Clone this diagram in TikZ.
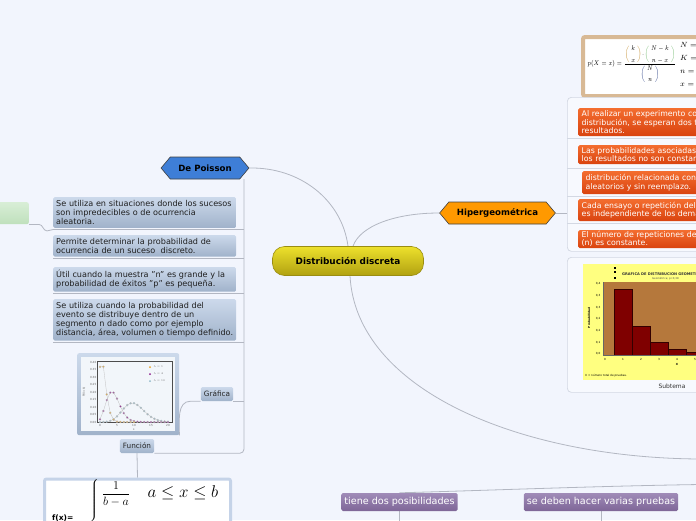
\RequirePackage{fix-cm}
\documentclass[tikz,border=0pt]{standalone}
\usepackage[no-math]{fontspec}
\setmainfont{DejaVu Sans}
\usepackage{amsmath}
\usetikzlibrary{calc,shapes.symbols}
\pgfdeclarelayer{fondo}
\pgfsetlayers{fondo,main}

\definecolor{fondoc}{HTML}{F2F5FD}
\definecolor{lineac}{HTML}{B3B7C2}
\definecolor{amar1}{HTML}{EDE12C}
\definecolor{amar2}{HTML}{B1A111}
\definecolor{amarb}{HTML}{9A8D12}
\definecolor{azulh}{HTML}{3E7ED7}
\definecolor{naranjah}{HTML}{FF9900}
\definecolor{caja1}{HTML}{CCD9EB}
\definecolor{caja2}{HTML}{A0B2CA}
\definecolor{nar1}{HTML}{F36D2F}
\definecolor{nar2}{HTML}{D9430F}
\definecolor{mor1}{HTML}{A08BB8}
\definecolor{mor2}{HTML}{7E6697}
\definecolor{verde1}{HTML}{D8EED6}
\definecolor{verde2}{HTML}{BFE0BC}
\definecolor{marcof}{HTML}{D8B995}
\definecolor{marcoa}{HTML}{C5D3E8}
\definecolor{grupoc}{HTML}{D3D8E3}
\definecolor{amarg}{HTML}{FFFF80}
\definecolor{cafe}{HTML}{B5783C}
\definecolor{barra}{HTML}{7F0000}
\definecolor{lam1}{HTML}{E8A020}
\definecolor{lam4}{HTML}{8B1A8B}
\definecolor{lam10}{HTML}{8FB8C8}
\definecolor{ocre}{HTML}{C8963C}
\definecolor{verdeb}{HTML}{7DBF7A}
\definecolor{azulb}{HTML}{3A4F8F}

% binomio con parentesis de color
\newcommand{\bincol}[3]{\mathopen{\color{#1}\left(\vphantom{\genfrac{}{}{0pt}{0}{#2}{#3}}\right.}\genfrac{}{}{0pt}{0}{#2}{#3}\mathclose{\color{#1}\left.\vphantom{\genfrac{}{}{0pt}{0}{#2}{#3}}\right)}}

\tikzset{
  conector/.style={draw=lineac, line width=.8pt},
  separa/.style={draw=grupoc, line width=.7pt},
  centro/.style={rounded corners=12pt, minimum width=151pt, minimum height=29pt, top color=amar1, bottom color=amar2, draw=amarb, line width=.6pt, font=\bfseries\fontsize{8.9}{10}\selectfont},
  hexa/.style={signal, signal to=east and west, signal pointer angle=100, draw=black!75, line width=.6pt, minimum height=22pt, font=\bfseries\fontsize{8.6}{10}\selectfont, inner xsep=8pt},
  caja/.style={anchor=north west, rounded corners=1.5pt, top color=caja1, bottom color=caja2, text width=177pt, inner xsep=3pt, inner ysep=3pt, align=left, text=black!88, font=\fontsize{8.1}{9.2}\selectfont},
  naranja/.style={anchor=north west, rounded corners=1.5pt, top color=nar1, bottom color=nar2, text width=200pt, inner xsep=3.5pt, inner ysep=0pt, align=left, text=white, font=\fontsize{7.8}{8.3}\selectfont},
  morado/.style={rounded corners=1.5pt, top color=mor1, bottom color=mor2, text=white, minimum height=18pt, inner xsep=3pt, inner ysep=0pt, font=\fontsize{9.6}{10}\selectfont},
  etiqueta/.style={rounded corners=1.5pt, top color=caja1, bottom color=caja2, text=black!85, minimum height=14pt, inner xsep=3pt, inner ysep=0pt, font=\fontsize{7.3}{8}\selectfont},
  grupo/.style={anchor=north west, draw=grupoc, fill=white!40!fondoc, rounded corners=4pt, line width=.7pt},
  diminuto/.style={font=\fontsize{2.8}{3}\selectfont, inner sep=.5pt},
}

\begin{document}
\begin{tikzpicture}[x=1pt,y=-1pt]
\clip (0,0) rectangle (696,520);
\begin{pgfonlayer}{fondo}
\fill[fondoc] (0,0) rectangle (696,520);
\end{pgfonlayer}

% nodos principales
\node[centro] (dd) at (348,261) {Distribución discreta};
\node[hexa, fill=azulh, minimum width=86pt] (poi) at (205,168) {De Poisson};
\node[hexa, fill=naranjah, minimum width=115pt] (hip) at (497.5,213) {Hipergeométrica};

% rama De Poisson
\coordinate (tronco) at (244,179);
\node[rounded corners=2pt, top color=verde1, bottom color=verde2, minimum width=40pt, minimum height=22pt, anchor=north east] (vd) at (29,202) {};
\node[caja] (c1) at (53,197) {Se utiliza en situaciones donde los sucesos\\son impredecibles o de ocurrencia\\aleatoria.};
\node[caja] (c2) at (53,235) {Permite determinar la probabilidad de\\ocurrencia de un suceso\ \ discreto.};
\node[caja] (c3) at (53,267) {Útil cuando la muestra "n" es grande y la\\probabilidad de éxitos "p" es pequeña.};
\node[caja] (c4) at (53,299) {Se utiliza cuando la probabilidad del\\evento se distribuye dentro de un\\segmento n dado como por ejemplo\\distancia, área, volumen o tiempo definido.};
\node[etiqueta] (gra) at (217,394) {Gráfica};
\node[etiqueta] (fun) at (137,446) {Función};

% grafica de Poisson
\node[anchor=north west, rounded corners=2pt, top color=caja1, bottom color=caja2, minimum width=102pt, minimum height=82pt, inner sep=0pt] (img) at (77,353) {};
\fill[white!75!caja1] ($(img.north west)+(4,4)$) rectangle ($(img.south east)+(-4,-4)$);
\draw[black!70, line width=.3pt] (97,361) rectangle (172,422);
\foreach \v [count=\i from 0] in {0.00,0.05,0.10,0.15,0.20,0.25,0.30,0.35,0.40}
  \node[diminuto, anchor=east, text=black!60] at (97,422-7.5*\i) {\v};
\foreach \k in {0,5,10,15,20}
  \node[diminuto, text=black!60] at (100+3.4*\k,425.5) {\k};
\node[diminuto, text=black!60] at (134,430) {$k$};
\node[diminuto, rotate=90, text=black!60] at (84,392) {P(X=k)};
\begin{scope}[shift={(100,422)}, x=3.4pt, y=150pt]
  \draw[black!25, line width=.3pt] plot[mark=*, mark size=1pt, mark options={draw=none, fill=lam10}] coordinates {(0,0) (1,.0005) (2,.0023) (3,.0076) (4,.0189) (5,.0378) (6,.0631) (7,.0901) (8,.1126) (9,.1251) (10,.1251) (11,.1137) (12,.0948) (13,.0729) (14,.0521) (15,.0347) (16,.0217) (17,.0128) (18,.0071) (19,.0037) (20,.0019)};
  \draw[black!25, line width=.3pt] plot[mark=*, mark size=1pt, mark options={draw=none, fill=lam4}] coordinates {(0,.0183) (1,.0733) (2,.1465) (3,.1954) (4,.1954) (5,.1563) (6,.1042) (7,.0595) (8,.0298) (9,.0132) (10,.0053) (11,.0019) (12,.0006) (13,.0002) (14,0) (15,0) (16,0) (17,0) (18,0) (19,0) (20,0)};
  \draw[black!25, line width=.3pt] plot[mark=*, mark size=1pt, mark options={draw=none, fill=lam1}] coordinates {(0,.368) (1,.368) (2,.184) (3,.061) (4,.015) (5,.003) (6,.0005) (7,0) (8,0) (9,0) (10,0)};
\end{scope}
\foreach \c/\yy/\t in {lam1/367/1,lam4/374/4,lam10/381/10}{
  \fill[\c] (150,\yy) circle (1pt);
  \node[diminuto, anchor=west, text=black!60] at (153,\yy) {$\lambda=\t$};
}

% formula uniforme
\node[anchor=north, draw=marcoa, line width=3pt, fill=white, rounded corners=2pt, minimum width=186pt, minimum height=70pt] (fbox) at (137.5,477.5) {};
\node[anchor=west, font=\bfseries\fontsize{7.5}{8}\selectfont, inner sep=0pt] (fx) at (52,518) {f(x)=};
\node[inner sep=0pt] (llave) at (95,522) {$\left\{\vrule height 40pt depth 40pt width 0pt\right.$};
\node[font=\fontsize{12}{14}\selectfont] (frac) at (116,494) {$\dfrac{1}{b-a}$};
\node[font=\fontsize{17}{20}\selectfont] (ineq) at (183,493) {$a\le x\le b$};

% rama Hipergeometrica
\node[anchor=north west, draw=marcof, line width=4pt, fill=white, rounded corners=2pt, minimum width=140pt, minimum height=59pt] (hform) at (581,35) {};
\node[font=\fontsize{6.8}{8}\selectfont, inner sep=0pt] (hfx) at (632,64) {\scalebox{0.8}[1]{$p(X=x)=\dfrac{\bincol{ocre}{k}{x}\!\cdot\!\bincol{verdeb}{N-k}{n-x}}{\bincol{azulb}{N}{n}}$}};
\foreach \l/\yy in {N/45,K/58,n/72,x/85}
  \node[anchor=west, font=\fontsize{7.5}{9}\selectfont, inner sep=0pt] at (680,\yy) {$\l=$};

\node[grupo, minimum width=160pt, minimum height=154pt] (hgrp) at (567,97) {};
\node[naranja, minimum height=28pt] (o1) at (578,108) {Al realizar un experimento con esta\\distribución, se esperan dos tipos de\\resultados.};
\node[naranja, minimum height=19pt] (o2) at (578,145) {Las probabilidades asociadas a cada uno de\\los resultados no son constantes.};
\node[naranja, minimum height=23pt] (o3) at (582,171) {distribución relacionada con muestreos\\aleatorios y sin reemplazo.};
\node[naranja, minimum height=22pt] (o4) at (578,199) {Cada ensayo o repetición del experimento no\\es independiente de los demás.};
\node[naranja, minimum height=18pt] (o5) at (578,230) {El número de repeticiones del experimento\\(n) es constante.};
\foreach \o/\d in {o1/2,o2/4,o3/2,o4/2}
  \draw[separa] ($(\o.south -| hgrp.west)+(0,\d)$) -- ($(\o.south -| hgrp.east)+(0,\d)$);

% grafica geometrica
\node[grupo, minimum width=160pt, minimum height=135pt] (sgrp) at (567,257) {};
\fill[amarg] (583,264) rectangle (720,380);
\fill[cafe] (603,282) rectangle (720,355);
\foreach \k/\t in {1/289,2/326,3/342,4/349,5/352,6/354}
  \filldraw[fill=barra, draw=black!60!barra, line width=.4pt] (605+18*\k-9,\t) rectangle (605+18*\k+9,355);
\draw[black!60, line width=.3pt] (603,282) -- (603,355) -- (720,355);
\foreach \v/\yy in {0{,}4/284,0{,}3/295.7,0{,}3/307.3,0{,}2/319,0{,}2/330.7,0{,}1/342.3,0{,}0/354}
  \node[diminuto, anchor=east] at (601,\yy) {\v};
\foreach \k in {0,...,5}
  \node[diminuto] at (605+18*\k,359.5) {\k};
\node[diminuto, font=\bfseries\fontsize{2.8}{3}\selectfont] at (677,364) {X};
\node[diminuto, rotate=90, font=\bfseries\fontsize{2.8}{3}\selectfont] at (589,318) {Probabilidad};
\foreach \yy in {268,272,278}
  \fill[black] (614.4,\yy-.6) rectangle (615.6,\yy+.6);
\node[anchor=west, inner sep=0pt, font=\bfseries\fontsize{3.6}{4}\selectfont, text=black!80] (gtit) at (622,274) {GRAFICA DE DISTRIBUCION GEOMETRICA};
\node[anchor=west, inner sep=0pt, font=\fontsize{2.6}{3}\selectfont, text=black!70] (gsub) at (652,278.5) {Geométrica; p=0,38};
\node[anchor=west, inner sep=0pt, font=\fontsize{2.8}{3}\selectfont] (gpie) at (585,376) {X = número total de pruebas.};
\node[font=\fontsize{6}{7}\selectfont, text=black!80] (subt) at (672,386) {Subtema};

% rama inferior
\node[morado] (tdp) at (399.5,502) {tiene dos posibilidades};
\node[morado] (sdh) at (601,502) {se deben hacer varias pruebas};
\coordinate (finA) at (700,459);
\coordinate (finB) at (700,484.5);

% conectores
\begin{pgfonlayer}{fondo}
\draw[conector] (poi.east) .. controls (300,167) and (342,200) .. (dd.north);
\draw[conector] ($(dd.north)+(5,0)$) .. controls (360,226) and (395,213) .. (hip.west);
\draw[conector] ($(dd.south)+(2,0)$) .. controls (356,390) and (520,458) .. (finA);
\draw[conector] (hip.east) -- (hip.east -| hgrp.west);
\draw[conector, rounded corners=4pt] (tronco) |- (fun.south east);
\foreach \c in {c1,c2,c3,c4}
  \draw[conector] ($(\c.south west)+(0,1.5)$) -- ($(\c.south west -| tronco)+(0,1.5)$);
\draw[conector] (vd.south east) -- ++(10,0) to[out=0,in=180] ++(8,6.5) -- ($(c1.south west)+(0,1.5)$);
\draw[conector] (gra.south east) -- (gra.south east -| tronco);
\draw[conector] (gra.south west) -- ++(-10,0) to[out=180,in=90] (img.south east);
\draw[conector] (fun.south) -- (fbox.north);
\draw[conector] (tdp.north) .. controls (500,490) and (600,486) .. (finB);
\draw[conector] (tdp.south) -- ++(0,15);
\draw[conector] (sdh.south) -- ++(0,15);
\end{pgfonlayer}
\end{tikzpicture}
\end{document}
